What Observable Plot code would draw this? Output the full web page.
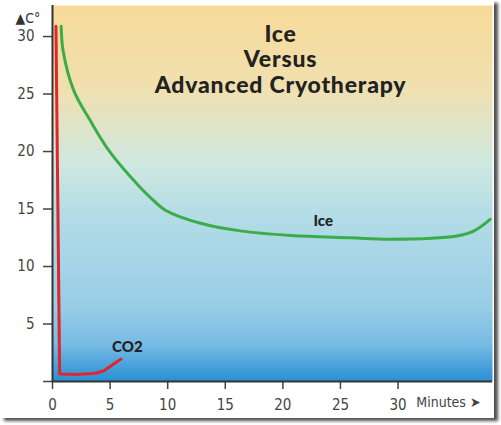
<!DOCTYPE html>
<html>
<head>
<meta charset="utf-8">
<script src="https://cdn.jsdelivr.net/npm/d3@7"></script>
<script src="https://cdn.jsdelivr.net/npm/@observablehq/plot@0.6"></script>
<style>
  html, body { margin: 0; padding: 0; background: #ffffff; }
  #wrap { position: relative; width: 501px; height: 425px; }
  #panel { position: absolute; left: 0; top: 0; width: 494px; height: 418px; background: #fff;
           box-shadow: 4px 3px 3px rgba(50,50,50,0.85); }
  #chart { position: absolute; left: 0; top: 0; }
  .title text { letter-spacing: 0.8px; }
</style>
</head>
<body>
<div id="wrap"><div id="panel"></div><div id="chart"></div></div>
<script>
// --- data ---
const titleLines = ["Ice", "Versus", "Advanced Cryotherapy"];
const yLabel = "▲C°";
const xLabel = "Minutes ➤";

const iceMinutes = [0.75, 0.93, 1.85, 3.3, 5.03, 7.64, 8.5, 9.8, 12.85, 16.3, 20.7, 25.9, 29.3, 35.1, 36.6, 38.0];
const iceTemp    = [30.9, 28.7, 25.3, 22.65, 19.9, 16.85, 16.0, 14.9, 13.76, 13.1, 12.7, 12.5, 12.37, 12.65, 13.1, 14.1];

const co2Minutes = [0.3, 0.62, 2.0, 3.5, 4.0, 4.5, 5.0, 5.5, 5.95];
const co2Temp    = [30.9, 0.65, 0.6, 0.7, 0.78, 0.95, 1.3, 1.65, 1.95];

const seriesLabels = ["Ice", "CO2"];
const labelMinutes = [23.5, 6.5];
const labelTemp = [13.9, 3.0];

const xTicks = [0, 5, 10, 15, 20, 25, 30];
const yTicks = [0, 5, 10, 15, 20, 25, 30];

// --- tables ---
const ice = iceMinutes.map((m, i) => ({m, t: iceTemp[i]}));
const co2 = co2Minutes.map((m, i) => ({m, t: co2Temp[i]}));
const labels = seriesLabels.map((s, i) => ({s, m: labelMinutes[i], t: labelTemp[i]}));

const axisFont = "'DejaVu Sans Condensed', 'Liberation Sans Narrow', 'Liberation Sans', sans-serif";
const boldFont = "Lato, 'Open Sans', sans-serif";

const gradient = () => {
  const ns = "http://www.w3.org/2000/svg";
  const defs = document.createElementNS(ns, "defs");
  const lg = document.createElementNS(ns, "linearGradient");
  lg.setAttribute("id", "bg");
  lg.setAttribute("x1", "0"); lg.setAttribute("y1", "0");
  lg.setAttribute("x2", "0"); lg.setAttribute("y2", "1");
  [["0%", "#f7da98"], ["22%", "#f0e0b0"], ["42%", "#cfe8e0"], ["55%", "#b4dde6"],
   ["80%", "#98cde6"], ["90%", "#78bbe3"], ["97%", "#3f9cd9"], ["100%", "#2a8fd4"]].forEach(([o, c]) => {
    const s = document.createElementNS(ns, "stop");
    s.setAttribute("offset", o); s.setAttribute("stop-color", c);
    lg.appendChild(s);
  });
  defs.appendChild(lg);
  return defs;
};

const plot = Plot.plot({
  width: 501,
  height: 425,
  marginLeft: 52,
  marginTop: 5,
  marginRight: 9,
  marginBottom: 44,
  style: {background: "transparent", fontFamily: axisFont, color: "#333"},
  x: {domain: [0, 38.2]},
  y: {domain: [0, 32.7]},
  marks: [
    gradient,
    Plot.frame({fill: "url(#bg)", stroke: "none"}),
    Plot.axisX({ticks: xTicks, tickSize: 8, tickPadding: 10, fontSize: 15, label: null,
                stroke: "#444", strokeWidth: 1.5, color: "#444"}),
    Plot.axisY({ticks: yTicks, tickSize: 9, tickPadding: 9, fontSize: 15, label: null,
                tickFormat: d => d === 0 ? "" : d, stroke: "#444", strokeWidth: 1.5, color: "#444"}),
    Plot.ruleX([0], {stroke: "#333", strokeWidth: 2}),
    Plot.ruleY([0], {stroke: "#333", strokeWidth: 2}),
    Plot.line(ice, {x: "m", y: "t", stroke: "#3bad48", strokeWidth: 3, curve: "catmull-rom"}),
    Plot.line(co2, {x: "m", y: "t", stroke: "#e2252c", strokeWidth: 3, curve: "linear"}),
    Plot.text(labels, {x: "m", y: "t", text: "s", fontFamily: boldFont, fontWeight: 900,
                       fontSize: 15, fill: "#222"}),
    Plot.text([titleLines.join("\n")], {frameAnchor: "top", lineAnchor: "top", dx: 8, dy: 18.5,
                       lineHeight: 1.1, fontFamily: boldFont, fontWeight: 900, fontSize: 23, fill: "#222",
                       className: "title"}),
    Plot.text([yLabel], {frameAnchor: "top-left", textAnchor: "start", dx: -37, dy: 8, fontSize: 14, fill: "#333"}),
    Plot.text([xLabel], {frameAnchor: "bottom-right", textAnchor: "end", dx: -12, dy: 25, fontSize: 14, fill: "#444"})
  ]
});
document.getElementById("chart").appendChild(plot);
</script>
</body>
</html>
